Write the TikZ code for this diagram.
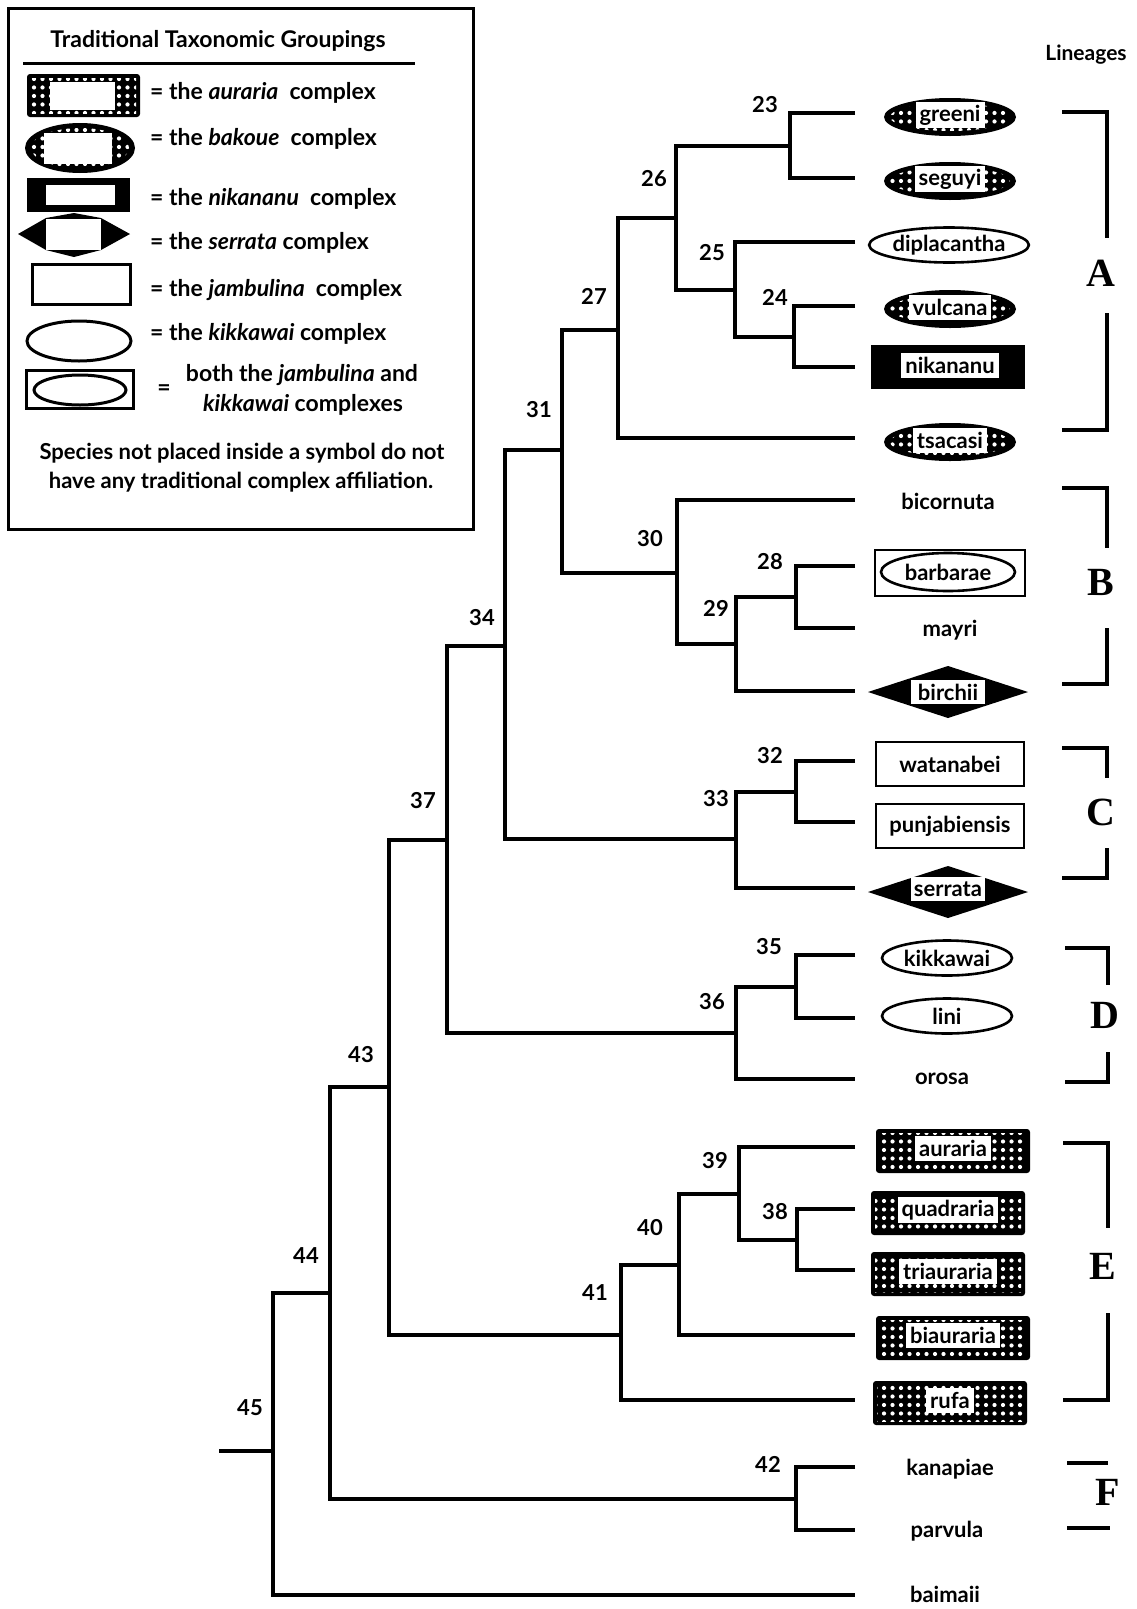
\documentclass[tikz,border=0pt]{standalone}
\usepackage{fontspec}
\setmainfont{Lato}
\newfontfamily\capfont{Liberation Serif}
\usetikzlibrary{patterns.meta,shapes.geometric}

\tikzset{whitedots/.style={pattern={Dots[radius=2.1pt,distance=8.5pt]}, pattern color=white}}

% filled symbols of the traditional complexes
\newcommand\bakoueshape[2]{%
  \fill (#1,#2) ellipse [x radius=66, y radius=19];
  \fill[whitedots] (#1,#2) ellipse [x radius=60, y radius=14];}
\newcommand\aurariashape[2]{%
  \fill[rounded corners=3pt] (#1-77,#2-22) rectangle (#1+77,#2+22);
  \fill[whitedots] (#1-73,#2-18) rectangle (#1+73,#2+18);}
\newcommand\nikashape[2]{%
  \fill (#1-77,#2-22) rectangle (#1+77,#2+22);}
\newcommand\serrshape[2]{%
  \fill (#1-80,#2) -- (#1-37,#2-14) -- (#1,#2-26) -- (#1+37,#2-14) -- (#1+80,#2)
    -- (#1+37,#2+14) -- (#1,#2+26) -- (#1-37,#2+14) -- cycle;}

\begin{document}
\begin{tikzpicture}[x=1pt,y=-1pt,
  branch/.style={line width=4pt, line join=miter},
  bracketline/.style={line width=3.4pt, line join=miter},
  num/.style={font=\bfseries\fontsize{22}{24}\selectfont, inner sep=0pt},
  sp/.style={font=\bfseries\fontsize{22}{24}\selectfont, inner sep=0pt},
  spbox/.style={sp, fill=white, inner xsep=4pt, inner ysep=3pt, minimum height=25},
  serrbox/.style={sp, fill=white, minimum width=74, minimum height=24},
  jamb/.style={sp, draw, line width=2.6pt, minimum width=148, minimum height=44},
  kikk/.style={sp, draw, ellipse, line width=2.6pt, minimum width=130, minimum height=35},
  lineage/.style={font=\capfont\bfseries\fontsize{40}{42}\selectfont, inner sep=0pt},
  legtext/.style={font=\bfseries\fontsize{23}{26}\selectfont, inner sep=0pt},
  notetext/.style={font=\bfseries\fontsize{22}{25}\selectfont, inner sep=0pt},
]
\useasboundingbox (0,0) rectangle (1136,1609);

% ---------------- legend ----------------
\draw[line width=3pt] (8,8) rectangle (473,529);
\node[legtext] (legtitle) at (218,41) {Traditional Taxonomic Groupings};
\draw[line width=3pt] (23,63) -- (415,63);

\fill[rounded corners=3pt] (27,74) rectangle (140,117);
\fill[whitedots] (31,78) rectangle (136,113);
\fill[white] (50,82) rectangle (115,110);
\node[legtext, anchor=west] (leg1) at (150,93) {= the \textit{auraria}\ \ complex};

\fill (80,148) ellipse [x radius=55, y radius=25];
\fill[whitedots] (80,148) ellipse [x radius=49, y radius=20];
\fill[white] (44,133) rectangle (112,164);
\node[legtext, anchor=west] (leg2) at (150,139) {= the \textit{bakoue}\ \ complex};

\fill (27,178) rectangle (130,212);
\fill[white] (46,185) rectangle (115,205);
\node[legtext, anchor=west] (leg3) at (150,199) {= the \textit{nikananu}\ \ complex};

\fill (18,234) -- (46,218) -- (74,213) -- (101,218) -- (130,234) -- (101,250) -- (74,257) -- (46,250) -- cycle;
\fill[white] (46,219) rectangle (101,250);
\node[legtext, anchor=west] (leg4) at (150,243) {= the \textit{serrata} complex};

\draw[line width=3pt] (32,264) rectangle (130,304);
\node[legtext, anchor=west] (leg5) at (150,290) {= the \textit{jambulina}\ \ complex};

\draw[line width=3pt] (79,341) ellipse [x radius=52, y radius=20];
\node[legtext, anchor=west] (leg6) at (150,334) {= the \textit{kikkawai} complex};

\draw[line width=3pt] (26,370) rectangle (133,408);
\draw[line width=3pt] (80,390) ellipse [x radius=46, y radius=15];
\node[legtext] (leg7eq) at (164,390) {=};
\node[legtext] (leg7a) at (302,375) {both the \textit{jambulina} and};
\node[legtext] (leg7b) at (303,405) {\textit{kikkawai} complexes};

\node[notetext] (note1) at (242,453) {Species not placed inside a symbol do not};
\node[notetext] (note2) at (241,482) {have any traditional complex affiliation.};

% ---------------- leaf tips ----------------
\coordinate (t-greeni) at (855,113);
\coordinate (t-seguyi) at (855,178);
\coordinate (t-diplacantha) at (855,242);
\coordinate (t-vulcana) at (855,306);
\coordinate (t-nikananu) at (855,367);
\coordinate (t-tsacasi) at (855,438);
\coordinate (t-bicornuta) at (855,500);
\coordinate (t-barbarae) at (855,566);
\coordinate (t-mayri) at (855,628);
\coordinate (t-birchii) at (855,691);
\coordinate (t-watanabei) at (855,761);
\coordinate (t-punjabiensis) at (855,822);
\coordinate (t-serrata) at (855,888);
\coordinate (t-kikkawai) at (855,955);
\coordinate (t-lini) at (855,1018);
\coordinate (t-orosa) at (855,1079);
\coordinate (t-auraria) at (855,1147);
\coordinate (t-quadraria) at (855,1209);
\coordinate (t-triauraria) at (855,1270);
\coordinate (t-biauraria) at (855,1335);
\coordinate (t-rufa) at (855,1400);
\coordinate (t-kanapiae) at (855,1467);
\coordinate (t-parvula) at (855,1530);
\coordinate (t-baimaii) at (855,1595);

% ---------------- internal nodes ----------------
\coordinate (n23) at (790,146);
\coordinate (n24) at (794,337);
\coordinate (n25) at (735,290);
\coordinate (n26) at (676,218);
\coordinate (n27) at (618,330);
\coordinate (n28) at (796,597);
\coordinate (n29) at (736,644);
\coordinate (n30) at (677,573);
\coordinate (n31) at (562,450);
\coordinate (n32) at (796,792);
\coordinate (n33) at (736,839);
\coordinate (n34) at (505,646);
\coordinate (n35) at (796,987);
\coordinate (n36) at (736,1033);
\coordinate (n37) at (447,840);
\coordinate (n38) at (797,1240);
\coordinate (n39) at (739,1194);
\coordinate (n40) at (679,1265);
\coordinate (n41) at (621,1335);
\coordinate (n42) at (796,1499);
\coordinate (n43) at (389,1087);
\coordinate (n44) at (330,1293);
\coordinate (n45) at (273,1451);
\coordinate (root) at (219,1451);

% ---------------- branches ----------------
\draw[branch] (t-greeni) -| (n23) |- (t-seguyi);
\draw[branch] (t-vulcana) -| (n24) |- (t-nikananu);
\draw[branch] (t-diplacantha) -| (n25) |- (n24);
\draw[branch] (n23) -| (n26) |- (n25);
\draw[branch] (n26) -| (n27) |- (t-tsacasi);
\draw[branch] (t-barbarae) -| (n28) |- (t-mayri);
\draw[branch] (n28) -| (n29) |- (t-birchii);
\draw[branch] (t-bicornuta) -| (n30) |- (n29);
\draw[branch] (n27) -| (n31) |- (n30);
\draw[branch] (t-watanabei) -| (n32) |- (t-punjabiensis);
\draw[branch] (n32) -| (n33) |- (t-serrata);
\draw[branch] (n31) -| (n34) |- (n33);
\draw[branch] (t-kikkawai) -| (n35) |- (t-lini);
\draw[branch] (n35) -| (n36) |- (t-orosa);
\draw[branch] (n34) -| (n37) |- (n36);
\draw[branch] (t-quadraria) -| (n38) |- (t-triauraria);
\draw[branch] (t-auraria) -| (n39) |- (n38);
\draw[branch] (n39) -| (n40) |- (t-biauraria);
\draw[branch] (n40) -| (n41) |- (t-rufa);
\draw[branch] (t-kanapiae) -| (n42) |- (t-parvula);
\draw[branch] (n37) -| (n43) |- (n41);
\draw[branch] (n43) -| (n44) |- (n42);
\draw[branch] (n44) -| (n45) |- (t-baimaii);
\draw[branch] (root) -- (n45);

% ---------------- node numbers ----------------
\node[num] (l23) at (765,105) {23};
\node[num] (l24) at (775,297) {24};
\node[num] (l25) at (712,253) {25};
\node[num] (l26) at (654,179) {26};
\node[num] (l27) at (594,296) {27};
\node[num] (l28) at (770,562) {28};
\node[num] (l29) at (716,608) {29};
\node[num] (l30) at (650,539) {30};
\node[num] (l31) at (539,410) {31};
\node[num] (l32) at (770,756) {32};
\node[num] (l33) at (716,799) {33};
\node[num] (l34) at (482,618) {34};
\node[num] (l35) at (769,947) {35};
\node[num] (l36) at (712,1002) {36};
\node[num] (l37) at (423,801) {37};
\node[num] (l38) at (775,1212) {38};
\node[num] (l39) at (715,1161) {39};
\node[num] (l40) at (650,1228) {40};
\node[num] (l41) at (595,1293) {41};
\node[num] (l42) at (768,1464) {42};
\node[num] (l43) at (361,1055) {43};
\node[num] (l44) at (306,1256) {44};
\node[num] (l45) at (250,1408) {45};

% ---------------- species ----------------
\bakoueshape{950}{117}
\node[spbox] (greeni) at (950,115) {greeni};
\bakoueshape{950}{181}
\node[spbox] (seguyi) at (950,179) {seguyi};
\node[kikk] (diplacantha) at (949,245) {diplacantha};
\bakoueshape{950}{309}
\node[spbox] (vulcana) at (950,307) {vulcana};
\nikashape{948}{367}
\node[spbox] (nikananu) at (950,365) {nikananu};
\bakoueshape{950}{442}
\node[spbox] (tsacasi) at (950,440) {tsacasi};
\node[sp] (bicornuta) at (948,501) {bicornuta};
\draw[line width=2.6pt] (875,550) rectangle (1025,596);
\node[kikk, minimum width=134, minimum height=38] (barbarae) at (948,572) {barbarae};
\node[sp] (mayri) at (950,630) {mayri};
\serrshape{948}{692}
\node[serrbox] (birchii) at (948,692) {birchii};
\node[jamb] (watanabei) at (950,764) {watanabei};
\node[jamb] (punjabiensis) at (950,826) {punjabiensis};
\serrshape{948}{892}
\node[serrbox] (serrata) at (948,889) {serrata};
\node[kikk] (kikkawai) at (947,958) {kikkawai};
\node[kikk] (lini) at (947,1016) {lini};
\node[sp] (orosa) at (942,1079) {orosa};
\aurariashape{953}{1151}
\node[spbox] (auraria) at (953,1148) {auraria};
\aurariashape{948}{1213}
\node[spbox] (quadraria) at (948,1210) {quadraria};
\aurariashape{948}{1274}
\node[spbox] (triauraria) at (948,1271) {triauraria};
\aurariashape{953}{1338}
\node[spbox] (biauraria) at (953,1335) {biauraria};
\aurariashape{950}{1403}
\node[spbox] (rufa) at (950,1400) {rufa};
\node[sp] (kanapiae) at (950,1469) {kanapiae};
\node[sp] (parvula) at (947,1531) {parvula};
\node[sp] (baimaii) at (945,1594) {baimaii};

% ---------------- lineages ----------------
\node[font=\bfseries\fontsize{21}{24}\selectfont, inner sep=0pt] (lineages) at (1086,55) {Lineages};
\node[lineage] (linA) at (1101,273) {A};
\draw[bracketline] (1062,112) -- (1107,112) -- (1107,238);
\draw[bracketline] (1107,313) -- (1107,430) -- (1062,430);
\node[lineage] (linB) at (1101,582) {B};
\draw[bracketline] (1062,488) -- (1107,488) -- (1107,548);
\draw[bracketline] (1107,628) -- (1107,684) -- (1062,684);
\node[lineage] (linC) at (1101,812) {C};
\draw[bracketline] (1062,748) -- (1107,748) -- (1107,778);
\draw[bracketline] (1107,848) -- (1107,878) -- (1062,878);
\node[lineage] (linD) at (1105,1015) {D};
\draw[bracketline] (1065,948) -- (1108,948) -- (1108,985);
\draw[bracketline] (1108,1052) -- (1108,1082) -- (1065,1082);
\node[lineage] (linE) at (1103,1266) {E};
\draw[bracketline] (1063,1143) -- (1108,1143) -- (1108,1228);
\draw[bracketline] (1108,1313) -- (1108,1400) -- (1063,1400);
\node[lineage] (linF) at (1108,1492) {F};
\draw[bracketline] (1067,1463) -- (1108,1463);
\draw[bracketline] (1067,1528) -- (1110,1528);
\end{tikzpicture}
\end{document}
